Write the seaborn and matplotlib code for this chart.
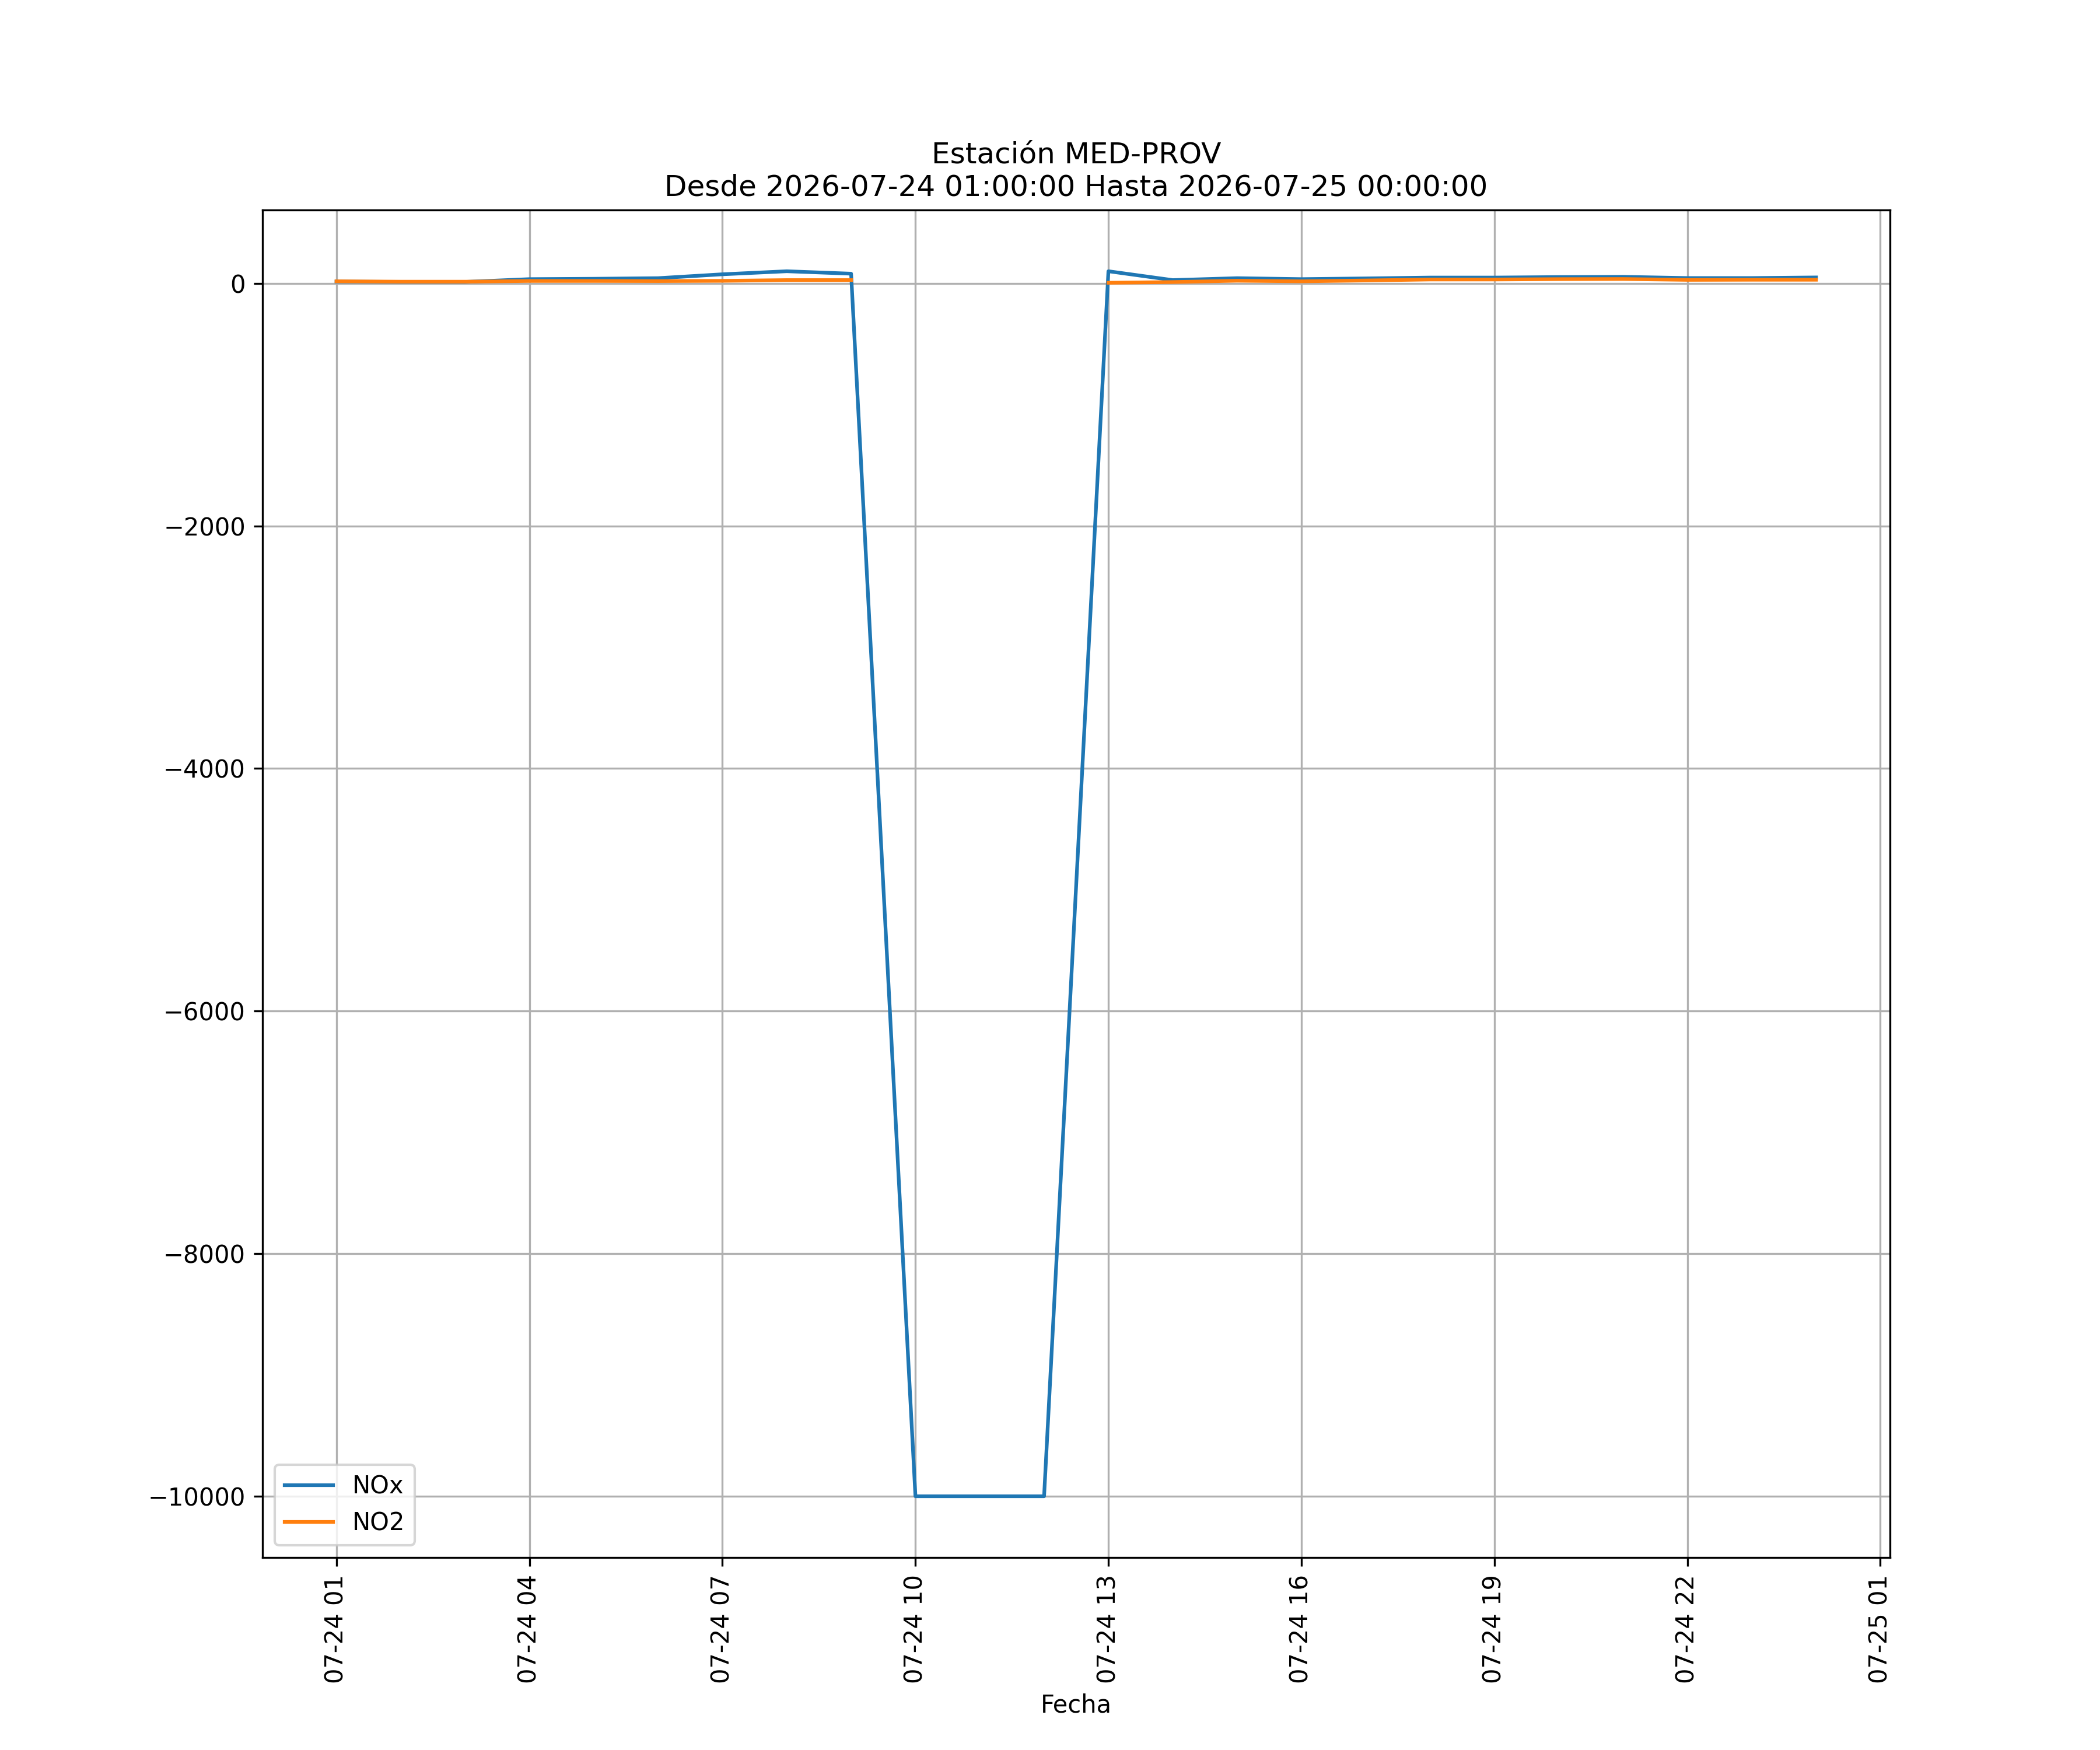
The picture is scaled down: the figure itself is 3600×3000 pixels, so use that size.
import numpy as np
import pandas as pd
import matplotlib
matplotlib.use("Agg")
import matplotlib.pyplot as plt
import matplotlib.dates as mdates
import seaborn as sns

fechas = pd.date_range("2026-07-24 01:00:00", "2026-07-25 00:00:00", freq="h")
nox = [15, 12, 12, 35, 38, 43, 75, 100, 80, -10000, -10000, -10000,
       100, 27, 43, 35, 41, 48, 48, 52, 54, 44, 44, 49]
no2 = [17, 14, 14, 20, 20, 19, 21, 27, 27, np.nan, np.nan, np.nan,
       5, 11, 22, 17, 24, 32, 32, 35, 36, 29, 30, 30]

df = pd.DataFrame({"Fecha": fechas, "NOx": nox, "NO2": no2})
# tramos continuos (separados por valores faltantes)
df["tramo_no2"] = df["NO2"].isna().cumsum()
df2 = df.dropna(subset=["NO2"])

fig, ax = plt.subplots(figsize=(12, 10), dpi=300)
sns.lineplot(data=df, x="Fecha", y="NOx", ax=ax, label="NOx", color="#1f77b4")
sns.lineplot(data=df2, x="Fecha", y="NO2", ax=ax, units="tramo_no2",
             estimator=None, color="#ff7f0e")
ax.lines[-1].set_label("NO2")
ax.set_ylabel("")
ax.set_xlabel("Fecha")
ax.set_title("Estación MED-PROV\nDesde 2026-07-24 01:00:00 Hasta 2026-07-25 00:00:00")
ax.xaxis.set_major_locator(mdates.HourLocator(byhour=range(1, 24, 3)))
ax.xaxis.set_major_formatter(mdates.DateFormatter("%m-%d %H"))
ax.grid(True)
handles, labels = ax.get_legend_handles_labels()
ax.legend(handles[:1] + handles[-1:], ["NOx", "NO2"], loc="lower left")
plt.setp(ax.get_xticklabels(), rotation=90)
fig.savefig("out.png", dpi=300)
